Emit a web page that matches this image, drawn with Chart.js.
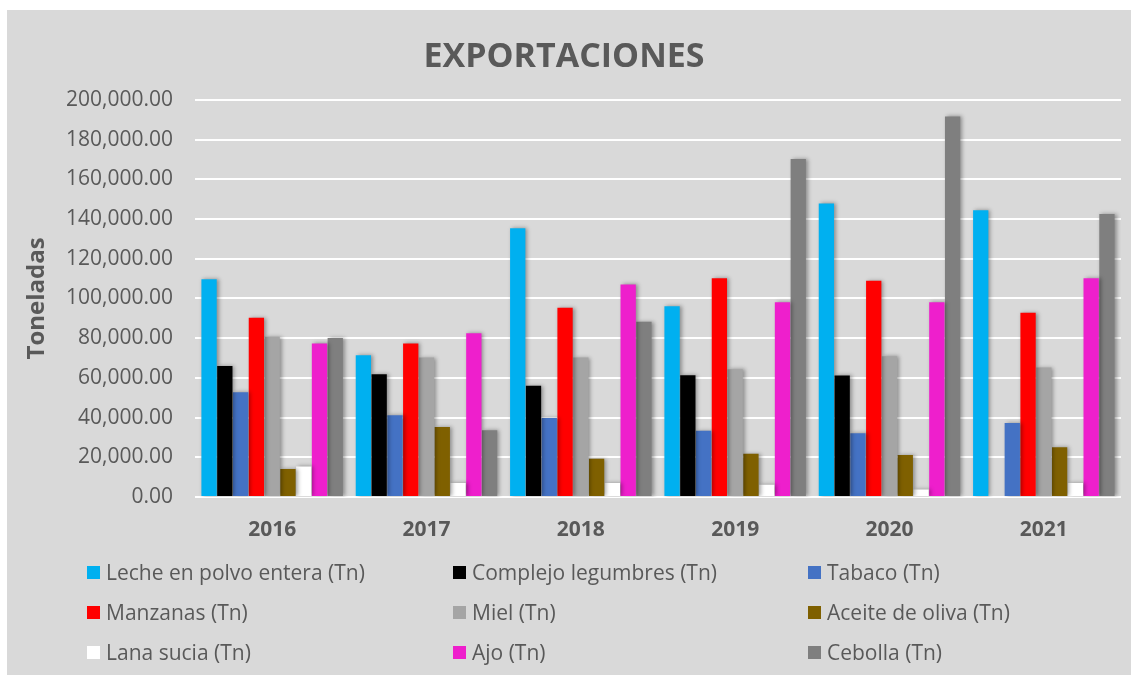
<!DOCTYPE html>
<html>
<head>
<meta charset="utf-8">
<script src="https://cdn.jsdelivr.net/npm/chart.js@4"></script>
<style>
    body { margin: 0; background: #ffffff; }
    #box {
        position: absolute;
        left: 7px;
        top: 10px;
        width: 1124px;
        height: 665px;
        background: #d9d9d9;
    }
    #box canvas { position: absolute; left: 0; top: 0; }
    #legend { position: absolute; left: 0; top: 0; }
    .item {
        position: absolute;
        display: flex;
        align-items: center;
        font-family: "Open Sans", sans-serif;
        font-size: 21px;
        color: #595959;
        white-space: nowrap;
        transform: translateY(-50%);
    }
    .item span.sw {
        display: inline-block;
        width: 13px;
        height: 13px;
        margin-right: 6px;
    }
</style>
</head>
<body>
<div id="box">
    <canvas id="chart" width="1124" height="665"></canvas>
    <div id="legend"></div>
</div>
<script>
const years = ["2016", "2017", "2018", "2019", "2020", "2021"];

const leche = [109600, 71400, 135300, 96000, 147800, 144400];
const legumbres = [65900, 61800, 56000, 61300, 61200, 0];
const tabaco = [52800, 41200, 39800, 33400, 32100, 37300];
const manzanas = [90300, 77300, 95300, 110200, 108900, 92800];
const miel = [80700, 70200, 70200, 64300, 70900, 65200];
const aceite = [14100, 35300, 19300, 21800, 21200, 25000];
const lana = [15400, 7100, 7100, 6200, 3800, 7100];
const ajo = [77300, 82500, 107000, 98000, 98000, 110200];
const cebolla = [80000, 33600, 88200, 170200, 191600, 142500];

const yTicks = [0, 20000, 40000, 60000, 80000, 100000, 120000, 140000, 160000, 180000, 200000];

const series = [
    { label: "Leche en polvo entera (Tn)", data: leche, color: "#00b0f0" },
    { label: "Complejo legumbres (Tn)", data: legumbres, color: "#000000" },
    { label: "Tabaco (Tn)", data: tabaco, color: "#4472c4" },
    { label: "Manzanas (Tn)", data: manzanas, color: "#ff0000" },
    { label: "Miel (Tn)", data: miel, color: "#a5a5a5" },
    { label: "Aceite de oliva (Tn)", data: aceite, color: "#7f6000" },
    { label: "Lana sucia (Tn)", data: lana, color: "#ffffff" },
    { label: "Ajo (Tn)", data: ajo, color: "#ee1fcc" },
    { label: "Cebolla (Tn)", data: cebolla, color: "#7f7f7f" },
];

const textColor = "#595959";
const fontFamily = "'Open Sans', sans-serif";

// soft shadow behind the bars, like the spreadsheet style
const barShadow = {
    id: "barShadow",
    beforeDatasetsDraw(chart) {
        const ctx = chart.ctx;
        ctx.save();
        ctx.shadowColor = "rgba(0, 0, 0, 0.35)";
        ctx.shadowBlur = 4;
        ctx.shadowOffsetX = 2;
        ctx.shadowOffsetY = 0;
    },
    afterDatasetsDraw(chart) {
        chart.ctx.restore();
    },
};

new Chart(document.getElementById("chart"), {
    type: "bar",
    data: {
        labels: years,
        datasets: series.map((s) => ({
            label: s.label,
            data: s.data,
            backgroundColor: s.color,
            borderWidth: 0,
            categoryPercentage: 0.92,
            barPercentage: 0.97,
        })),
    },
    options: {
        responsive: false,
        animation: false,
        layout: { padding: { left: 0, right: 10, top: 4, bottom: 118 } },
        plugins: {
            legend: { display: false },
            tooltip: { enabled: false },
            title: {
                display: true,
                text: "EXPORTACIONES",
                color: textColor,
                font: { family: fontFamily, size: 34, weight: "bold" },
                padding: { top: 23, bottom: 22 },
            },
        },
        scales: {
            x: {
                grid: { display: false, drawTicks: false },
                border: { display: false },
                ticks: {
                    color: textColor,
                    padding: 20,
                    font: { family: fontFamily, size: 21, weight: "bold" },
                },
                afterFit(scale) {
                    scale.height = 60;
                },
            },
            y: {
                min: 0,
                max: 200000,
                afterBuildTicks(scale) {
                    scale.ticks = yTicks.map((v) => ({ value: v }));
                },
                grid: { color: "#ffffff", lineWidth: 2, drawTicks: false },
                border: { display: false },
                ticks: {
                    color: textColor,
                    padding: 22,
                    font: { family: fontFamily, size: 21 },
                    callback: (v) =>
                        v.toLocaleString("en-US", {
                            minimumFractionDigits: 2,
                            maximumFractionDigits: 2,
                        }),
                },
                title: {
                    display: true,
                    text: "Toneladas",
                    color: textColor,
                    font: { family: fontFamily, size: 24, weight: "bold" },
                    padding: { top: 16, bottom: 0 },
                },
                afterFit(scale) {
                    scale.width = 188;
                },
            },
        },
    },
    plugins: [barShadow],
});

// legend in three columns under the plot
const legendCols = [80, 446, 801];
const legendRows = [562, 602, 642];
const legend = document.getElementById("legend");
series.forEach((s, i) => {
    const item = document.createElement("div");
    item.className = "item";
    item.style.left = legendCols[i % 3] + "px";
    item.style.top = legendRows[Math.floor(i / 3)] + "px";
    const sw = document.createElement("span");
    sw.className = "sw";
    sw.style.background = s.color;
    item.appendChild(sw);
    item.appendChild(document.createTextNode(s.label));
    legend.appendChild(item);
});
</script>
</body>
</html>
